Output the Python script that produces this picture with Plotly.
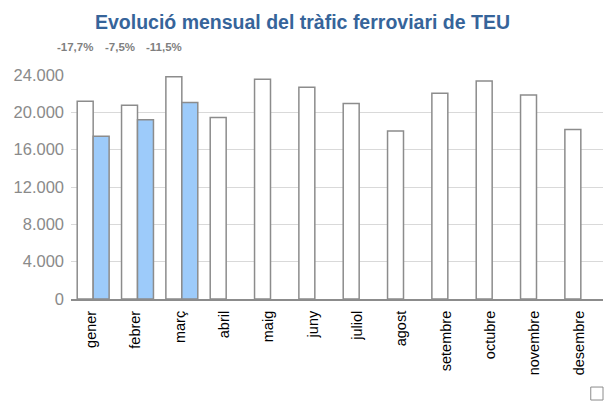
import plotly.graph_objects as go

# Monthly rail TEU traffic
months = ["gener", "febrer", "març", "abril", "maig", "juny",
          "juliol", "agost", "setembre", "octubre", "novembre", "desembre"]
teu_prev_year = [21200, 20750, 23800, 19450, 23550, 22700,
                 20950, 18000, 22050, 23350, 21850, 18150]
teu_curr_year = [17450, 19200, 21060]
pct_change = ["-17,7%", "-7,5%", "-11,5%"]
y_ticks = [0, 4000, 8000, 12000, 16000, 20000, 24000]

outline = "#8c8c8c"

fig = go.Figure()
fig.add_trace(go.Bar(
    x=months, y=teu_prev_year, name="",
    marker=dict(color="#ffffff", line=dict(color=outline, width=1.5)),
    showlegend=False,
))
fig.add_trace(go.Bar(
    x=months[:len(teu_curr_year)], y=teu_curr_year, name="",
    marker=dict(color="#9dcbfa", line=dict(color=outline, width=1.5)),
    showlegend=False,
))

# year-on-year change labels above the first months
for m, txt in zip(months, pct_change):
    fig.add_annotation(
        x=m, y=1, xref="x", yref="paper", text=f"<b>{txt}</b>",
        showarrow=False, xshift=-18, yshift=36,
        font=dict(family="Liberation Sans", size=11.5, color="#7f7f7f"),
    )

# small legend key in the bottom-right corner
fig.add_shape(type="rect", xref="paper", yref="paper",
              x0=0.977, x1=1.0, y0=-0.451, y1=-0.393,
              line=dict(color="#8c8c8c", width=1), fillcolor="#ffffff")

fig.update_layout(
    width=605, height=403,
    margin=dict(l=71, r=2, t=75, b=104, autoexpand=False),
    paper_bgcolor="#ffffff", plot_bgcolor="#ffffff",
    barmode="group", bargap=0.28, bargroupgap=0,
    separators=",.",
    title=dict(
        text="<b>Evolució mensual del tràfic ferroviari de TEU</b>",
        x=0.5, xanchor="center", y=0.945, yanchor="middle",
        font=dict(family="Liberation Sans", size=19.5, color="#36649a"),
    ),
    xaxis=dict(
        type="category", categoryorder="array", categoryarray=months,
        range=[-0.5, len(months) - 0.5], automargin=False,
        tickangle=-90, tickfont=dict(family="Liberation Sans", size=14.5, color="#000000"),
        showgrid=False, showline=True, linecolor=outline, linewidth=2,
        ticks="", ticklabelstandoff=4, ticklabelshift=-2,
    ),
    yaxis=dict(
        range=[0, 24000], tickvals=y_ticks, tickformat=",d", automargin=False,
        tickfont=dict(family="Liberation Sans", size=16.5, color="#8a8a8a"),
        showgrid=True, gridcolor="#d9d9d9", gridwidth=1,
        zeroline=False, showline=False, ticks="", ticklabelstandoff=6,
    ),
)

fig.write_html("out.html")
